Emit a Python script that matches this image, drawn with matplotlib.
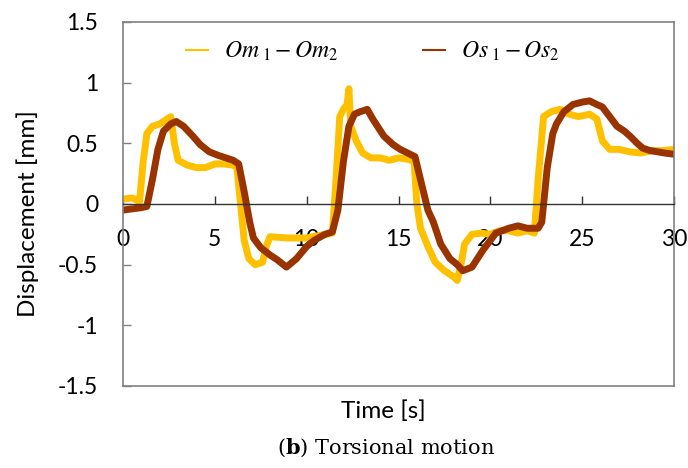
import matplotlib
matplotlib.use("Agg")
import matplotlib.pyplot as plt
from matplotlib.ticker import FuncFormatter

# values (time in s, displacement in mm)
t_om = [0, 0.5, 0.9, 1.1, 1.3, 1.6, 2.0, 2.4, 2.6, 2.8, 3.0, 3.5, 4.0, 4.5, 5.0,
        5.5, 6.0, 6.2, 6.4, 6.6, 6.85, 7.2, 7.6, 7.8, 8.0, 9.0, 10.0, 11.0, 11.4,
        11.6, 11.8, 12.0, 12.2, 12.3, 12.4, 12.7, 13.05, 13.5, 14.0, 14.5, 15.0,
        15.5, 15.85, 16.0, 16.2, 16.6, 17.0, 17.5, 18.0, 18.2, 18.4, 18.6, 19.0,
        19.5, 20.0, 20.5, 21.0, 21.5, 22.0, 22.4, 22.6, 22.9, 23.3, 23.8, 24.3,
        24.8, 25.4, 25.8, 26.1, 26.5, 27.0, 27.6, 28.2, 28.8, 29.4, 30.0]
om = [0.04, 0.05, 0.02, 0.35, 0.58, 0.64, 0.66, 0.70, 0.72, 0.50, 0.36, 0.32, 0.30,
      0.30, 0.33, 0.33, 0.32, 0.30, 0.0, -0.30, -0.45, -0.50, -0.48, -0.35, -0.27,
      -0.28, -0.28, -0.25, -0.24, 0.20, 0.72, 0.78, 0.82, 0.95, 0.64, 0.52, 0.42,
      0.38, 0.38, 0.36, 0.38, 0.37, 0.35, 0.0, -0.20, -0.35, -0.48, -0.55, -0.60,
      -0.63, -0.50, -0.33, -0.25, -0.24, -0.25, -0.22, -0.22, -0.24, -0.22, -0.24,
      0.20, 0.72, 0.76, 0.78, 0.74, 0.72, 0.74, 0.70, 0.52, 0.45, 0.45, 0.43, 0.42,
      0.44, 0.44, 0.45]

t_os = [0, 0.5, 1.0, 1.3, 1.6, 1.9, 2.2, 2.6, 2.9, 3.3, 3.8, 4.2, 4.7, 5.2, 5.6,
        6.0, 6.3, 6.6, 6.9, 7.1, 7.5, 8.0, 8.4, 8.9, 9.45, 10.0, 10.4, 11.0, 11.4,
        11.7, 12.0, 12.3, 12.6, 12.9, 13.3, 13.6, 14.2, 14.7, 15.1, 15.5, 15.9,
        16.2, 16.6, 16.9, 17.3, 17.8, 18.2, 18.5, 19.0, 19.6, 20.0, 20.3, 21.0,
        21.5, 22.0, 22.6, 22.8, 23.1, 23.4, 23.6, 24.0, 24.5, 25.0, 25.4, 25.8,
        26.1, 26.5, 26.9, 27.3, 27.6, 28.0, 28.3, 28.7, 29.1, 29.5, 30.0]
os_ = [-0.05, -0.04, -0.03, -0.02, 0.20, 0.45, 0.60, 0.66, 0.68, 0.64, 0.56, 0.49,
       0.43, 0.40, 0.38, 0.36, 0.33, 0.10, -0.15, -0.28, -0.36, -0.42, -0.46, -0.52,
       -0.45, -0.35, -0.30, -0.25, -0.23, -0.05, 0.35, 0.64, 0.74, 0.76, 0.78, 0.70,
       0.56, 0.49, 0.45, 0.42, 0.39, 0.20, -0.05, -0.15, -0.33, -0.45, -0.50, -0.55,
       -0.52, -0.38, -0.30, -0.24, -0.20, -0.18, -0.20, -0.20, -0.15, 0.30, 0.58,
       0.66, 0.76, 0.82, 0.84, 0.85, 0.82, 0.80, 0.72, 0.64, 0.60, 0.56, 0.50, 0.46,
       0.44, 0.43, 0.42, 0.41]

labels = [r'$Om_{\ 1} - Om_{2}$', r'$Os_{\ 1} - Os_{2}$']
colors = ['#FFC000', '#993300']

plt.rcParams['font.family'] = ['Lato', 'DejaVu Sans']
plt.rcParams['mathtext.fontset'] = 'stix'

fig = plt.figure(figsize=(6.88, 4.68), dpi=100)
ax = fig.add_axes([123/688, 1 - 386/468, 551/688, 364/468])

ax.plot(t_om, om, color=colors[0], lw=5, solid_joinstyle='round', label=labels[0])
ax.plot(t_os, os_, color=colors[1], lw=5, solid_joinstyle='round', label=labels[1])

ax.set_xlim(0, 30)
ax.set_ylim(-1.5, 1.5)
ax.set_xticks(range(0, 31, 5))
ax.set_yticks([-1.5, -1, -0.5, 0, 0.5, 1, 1.5])
ax.yaxis.set_major_formatter(FuncFormatter(lambda v, p: ('%g' % v)))

# x axis runs along zero, the frame stays as a box
ax.spines['bottom'].set_position(('data', 0))
ax.spines['bottom'].set_color('#333333')
ax.spines['bottom'].set_linewidth(1.0)
for s in ['left', 'right', 'top']:
    ax.spines[s].set_color('#808080')
    ax.spines[s].set_linewidth(1.2)
ax.plot([0, 1], [0, 0], transform=ax.transAxes, color='#808080', lw=1.2, clip_on=False)

ax.tick_params(axis='x', direction='in', length=6, width=1, color='#333333',
               pad=18, labelsize=16.5)
ax.tick_params(axis='y', direction='in', length=6, width=1, color='#808080',
               pad=18, labelsize=16.5)

fig.text(28/688, 1 - 214/468, 'Displacement [mm]', rotation=90, fontsize=17.5,
         ha='center', va='center')
fig.text(383/688, 1 - 411/468, 'Time [s]', fontsize=17.5, ha='center', va='center')
fig.text(386/688, 1 - 454/468, r'($\mathbf{b}$) Torsional motion', fontsize=15,
         family='DejaVu Serif', math_fontfamily='dejavuserif', ha='center',
         va='baseline')

ax.legend(loc='upper left', bbox_to_anchor=(0.114, 1 - 18/364), ncol=2,
          frameon=False, fontsize=17, handlelength=0.95, handletextpad=0.65,
          columnspacing=3.6, borderpad=0, borderaxespad=0)
for line in ax.get_legend().get_lines():
    line.set_linewidth(1.5)

fig.savefig('out.png', dpi=100)
